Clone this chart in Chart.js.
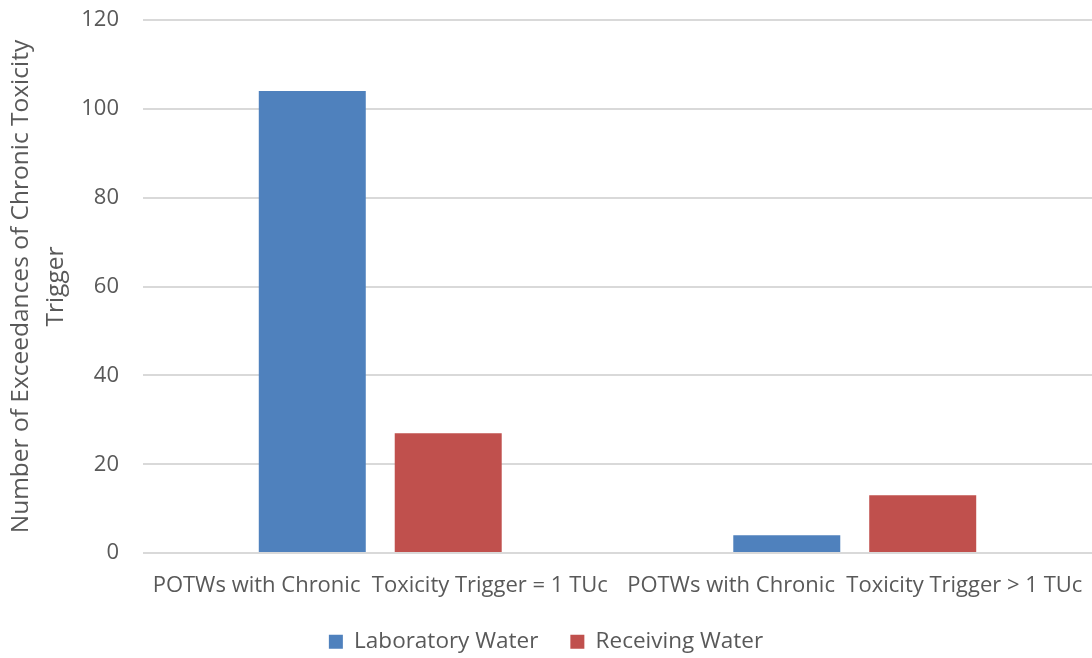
<!DOCTYPE html>
<html>
<head>
<meta charset="utf-8">
<script src="https://cdn.jsdelivr.net/npm/chart.js@4"></script>
<style>
  html, body { margin: 0; padding: 0; background: #fff; }
  #wrap { width: 1092px; height: 658px; }
</style>
</head>
<body>
<div id="wrap"><canvas id="chart" width="1092" height="658"></canvas></div>
<script>
const categories = [
  "POTWs with Chronic  Toxicity Trigger = 1 TUc",
  "POTWs with Chronic  Toxicity Trigger > 1 TUc",
];
const laboratoryWater = [104, 4];
const receivingWater = [27, 13];
const yTicks = [0, 20, 40, 60, 80, 100, 120];

const textColor = "#595959";
const fontFamily = "'Open Sans', sans-serif";

const ctx = document.getElementById("chart").getContext("2d");
new Chart(ctx, {
  type: "bar",
  data: {
    labels: categories,
    datasets: [
      {
        label: "Laboratory Water",
        data: laboratoryWater,
        backgroundColor: "#4F81BD",
        borderWidth: 0,
      },
      {
        label: "Receiving Water",
        data: receivingWater,
        backgroundColor: "#C0504D",
        borderWidth: 0,
      },
    ],
  },
  options: {
    responsive: false,
    animation: false,
    layout: { padding: { top: 20, right: 0, bottom: -5, left: 0 } },
    datasets: {
      bar: { categoryPercentage: 0.573, barPercentage: 0.787 },
    },
    scales: {
      x: {
        grid: { display: false, drawTicks: true, tickLength: 19 },
        border: { display: false },
        ticks: {
          color: textColor,
          font: { family: fontFamily, size: 22 },
          maxRotation: 0,
          autoSkip: false,
          padding: 0,
        },
      },
      y: {
        min: 0,
        max: 120,
        afterBuildTicks: (axis) => {
          axis.ticks = yTicks.map((v) => ({ value: v }));
        },
        afterFit: (axis) => {
          axis.width = 143;
        },
        grid: {
          color: "#D9D9D9",
          lineWidth: 2,
          drawTicks: true,
          tickLength: 20,
          tickColor: "transparent",
        },
        border: { display: false },
        ticks: {
          color: textColor,
          font: { family: fontFamily, size: 22 },
          padding: 4,
        },
        title: {
          display: true,
          text: ["Number of Exceedances of Chronic Toxicity", "Trigger"],
          color: textColor,
          font: { family: fontFamily, size: 24.5, lineHeight: 1.43 },
          padding: { top: 3, bottom: 0 },
        },
      },
    },
    plugins: {
      legend: {
        position: "bottom",
        labels: {
          color: textColor,
          font: { family: fontFamily, size: 22.5 },
          boxWidth: 14,
          boxHeight: 14,
          padding: 32,
        },
      },
      tooltip: { enabled: false },
    },
  },
});
</script>
</body>
</html>
